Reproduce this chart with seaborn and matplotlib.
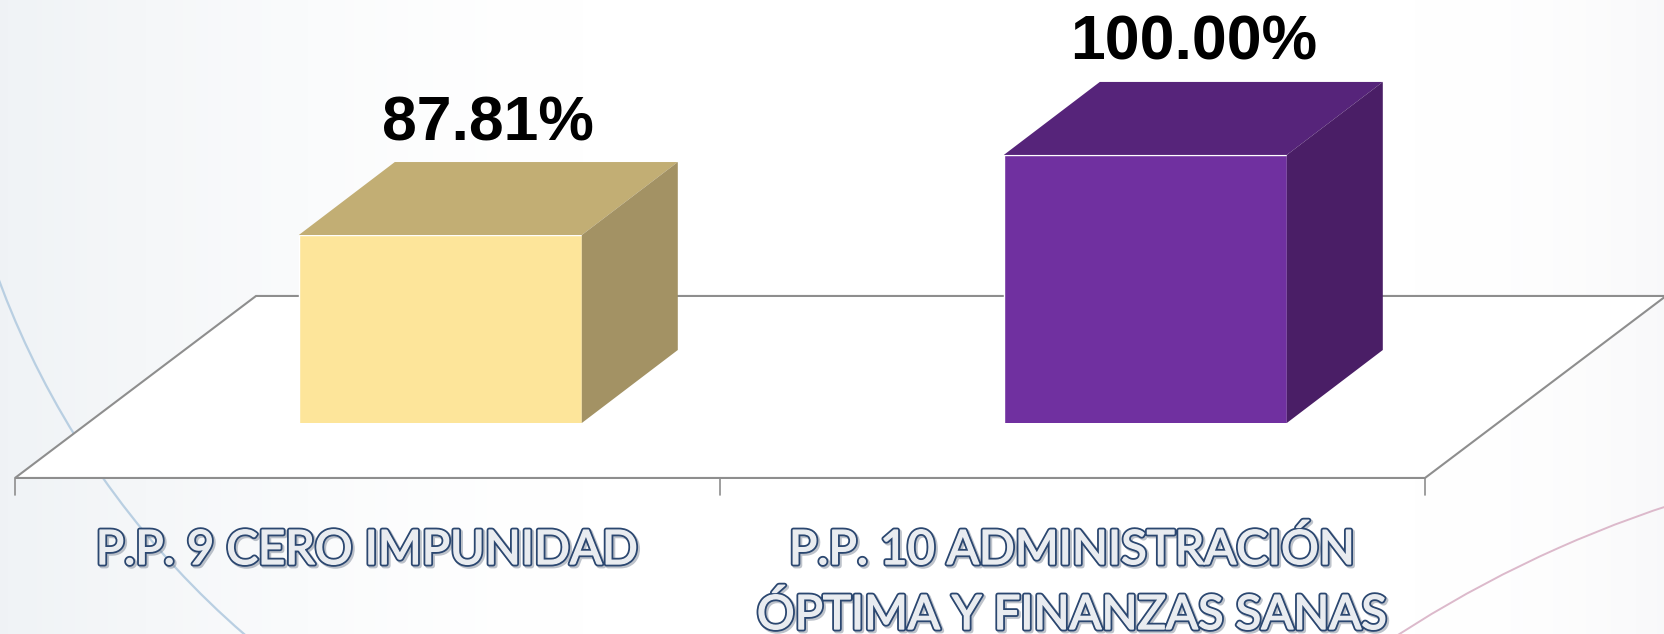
import numpy as np
import pandas as pd
import matplotlib
matplotlib.use("Agg")
import matplotlib.pyplot as plt
import matplotlib.patheffects as pe
from matplotlib.patches import Polygon, Arc
import seaborn as sns

# datos de la grafica
categorias = ["P.P. 9 CERO IMPUNIDAD", "P.P. 10 ADMINISTRACIÓN\nÓPTIMA Y FINANZAS SANAS"]
valores = [87.81, 100.00]

# colores de cada cara de las barras (frente, tapa, lado)
col_frente = ["#FDE59A", "#7030A0"]
col_tapa = ["#C2AE74", "#56247A"]
col_lado = ["#A39264", "#4A1E66"]

W, H, DPI = 1665, 634, 100
BASE = 59.2        # minimo del eje de valores (piso)
K = 6.57           # pixeles por unidad de valor
PASO = 705.0       # pixeles por categoria
X0 = 87.8          # pixel donde cae x=-0.5 en el plano del frente de las barras
Y_BASE = 423       # pixel (desde arriba) del pie de las barras
PROF_BARRA = (96, 73)    # profundidad de la barra en pixeles
PROF_PISO = (241, 182)   # profundidad del piso
F0 = 0.302               # posicion del frente de la barra dentro del piso

sns.set_style("white")
df = pd.DataFrame({"cat": categorias, "val": valores})

fig = plt.figure(figsize=(W / DPI, H / DPI), dpi=DPI)

# fondo con degradado y arcos decorativos
bg = fig.add_axes([0, 0, 1, 1], zorder=0)
xs = np.linspace(0, 1, 400)
izq = np.clip(1 - xs / 0.35, 0, 1) ** 1.5
der = np.clip((xs - 0.85) / 0.15, 0, 1) ** 2
grad = np.ones((1, 400, 3))
grad[..., 0] -= 0.06 * izq + 0.025 * der
grad[..., 1] -= 0.048 * izq + 0.025 * der
grad[..., 2] -= 0.036 * izq + 0.02 * der
bg.imshow(grad, extent=[0, W, H, 0], aspect="auto")
bg.add_patch(Arc((812, -21), 2 * 867, 2 * 867, theta1=120, theta2=170, ec="#b9cfe2", lw=1.6))
bg.add_patch(Arc((2034, 1617), 2 * 1170, 2 * 1170, theta1=230, theta2=262, ec="#dcb9cb", lw=1.4))
bg.set_xlim(0, W)
bg.set_ylim(H, 0)
bg.axis("off")

# ejes principales: el borde inferior coincide con el pie de las barras
ax = fig.add_axes([0, (H - Y_BASE) / H, 1, Y_BASE / H], zorder=1)
ax.patch.set_alpha(0)
sns.barplot(data=df, x="cat", y="val", hue="cat", palette=col_frente, legend=False,
            width=283 / PASO, saturation=1, ax=ax, zorder=3)
ax.set_xlim(-0.5 - X0 / PASO, -0.5 + (W - X0) / PASO)
ax.set_ylim(BASE, BASE + Y_BASE / K)
ax.axis("off")

dxb, dyb = PROF_BARRA[0] / PASO, PROF_BARRA[1] / K
dxp, dyp = PROF_PISO[0] / PASO, PROF_PISO[1] / K

# piso
fl = (-0.5 - F0 * dxp, BASE - F0 * dyp)
fr = (fl[0] + 2, fl[1])
piso = Polygon([fl, fr, (fr[0] + dxp, fr[1] + dyp), (fl[0] + dxp, fl[1] + dyp)],
               closed=True, fc="white", ec="#8e8e8e", lw=1.5, clip_on=False, zorder=1)
ax.add_patch(piso)
for t in [-0.5, 0.5, 1.5]:
    ax.plot([t - F0 * dxp] * 2, [fl[1], fl[1] - 17 / K], color="#8e8e8e", lw=1.2,
            clip_on=False, zorder=1)

# caras laterales y superiores de cada barra
for i, p in enumerate(ax.patches[:len(valores)]):
    x0 = p.get_x()
    x1 = x0 + p.get_width()
    top = valores[i]
    tapa = Polygon([(x0, top), (x1, top), (x1 + dxb, top + dyb), (x0 + dxb, top + dyb)],
                   closed=True, fc=col_tapa[i], ec="none", clip_on=False, zorder=3)
    lado = Polygon([(x1, BASE), (x1, top), (x1 + dxb, top + dyb), (x1 + dxb, BASE + dyb)],
                   closed=True, fc=col_lado[i], ec="none", clip_on=False, zorder=3)
    ax.add_patch(tapa)
    ax.add_patch(lado)
    ax.text((x0 + x1) / 2 + dxb / 2, top + dyb + 22 / K, f"{valores[i]:.2f}%",
            ha="center", va="baseline", fontsize=45, fontweight="bold",
            family="Liberation Sans", color="black", zorder=4)

# etiquetas de categoria con contorno
efectos = [
    pe.Stroke(linewidth=3.8, foreground="#6f7a8c", alpha=0.45, offset=(1.3, -1.3)),
    pe.Stroke(linewidth=3.6, foreground="#2b4770"),
    pe.Stroke(linewidth=1.0, foreground="#e9ecf0"),
    pe.Normal(),
]
for i, lab in enumerate(categorias):
    for j, linea in enumerate(lab.split("\n")):
        ax.text(i - F0 * dxp, fl[1] - (86 + 65 * j) / K, linea, ha="center", va="baseline",
                fontsize=34, family="Lato", color="#e9ecf0", clip_on=False,
                path_effects=efectos, zorder=4)

fig.savefig("out.png", dpi=DPI)
